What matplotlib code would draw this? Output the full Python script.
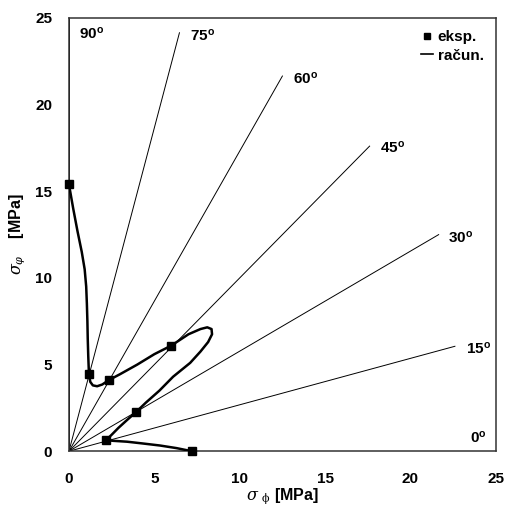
"""
Stress plot: sigma_phi vs sigma_phi with radial angle lines,
experimental points and computed curve.
"""

import numpy as np
import matplotlib
matplotlib.use("Agg")
import matplotlib.pyplot as plt
from matplotlib.lines import Line2D

# Data
ANGLES = [0, 15, 30, 45, 60, 75, 90]  # degrees
RAY_LENGTH = [25.0, 23.4, 25.0, 24.9, 25.0, 25.0, 25.0]
ANGLE_LABEL_X = [23.5, 23.25, 22.2, 18.2, 13.1, 7.1, 0.6]
ANGLE_LABEL_Y = [0.8, 5.95, 12.35, 17.5, 21.5, 24.0, 24.1]

exp_x = [0.0, 1.17, 2.33, 6.0, 3.92, 2.17, 7.2]
exp_y = [15.4, 4.47, 4.1, 6.1, 2.25, 0.64, 0.0]

calc_x = [0.0, 0.25, 0.5, 0.75, 0.92, 1.01, 1.05, 1.08, 1.1, 1.13, 1.17,
          1.25, 1.4, 1.65, 1.95, 2.33, 3.0, 4.0, 5.0, 6.0, 7.0, 7.7, 8.1,
          8.35, 8.38, 8.15, 7.7, 7.1, 6.1, 5.3, 4.5, 3.92, 3.4, 2.9, 2.5,
          2.17, 2.6, 3.4, 4.3, 5.33, 6.3, 7.2]
calc_y = [15.4, 14.0, 12.7, 11.5, 10.5, 9.5, 8.5, 7.5, 6.5, 5.5, 4.47,
          4.0, 3.8, 3.75, 3.85, 4.1, 4.45, 5.0, 5.6, 6.1, 6.75, 7.05, 7.15,
          7.05, 6.75, 6.3, 5.75, 5.1, 4.3, 3.5, 2.8, 2.25, 1.8, 1.35, 0.95,
          0.64, 0.6, 0.55, 0.45, 0.33, 0.18, 0.0]

TICKS = [0, 5, 10, 15, 20, 25]

plt.rcParams['font.family'] = ['Liberation Sans', 'DejaVu Sans']
plt.rcParams['mathtext.fontset'] = 'dejavuserif'

fig = plt.figure(figsize=(5.07, 5.07), dpi=100)
ax = fig.add_axes([0.136, 0.110, 0.842, 0.8545])

# radial lines
for ang, r in zip(ANGLES, RAY_LENGTH):
    a = np.radians(ang)
    ax.plot([0, r * np.cos(a)], [0, r * np.sin(a)], color='black', linewidth=0.7)

for ang, lx, ly in zip(ANGLES, ANGLE_LABEL_X, ANGLE_LABEL_Y):
    ax.text(lx, ly, f'{ang}$^\\mathregular{{o}}$', fontsize=11, fontweight='bold',
            ha='left', va='center')

ax.plot(calc_x, calc_y, color='black', linewidth=1.8, zorder=3,
        solid_joinstyle='round')
ax.plot(exp_x, exp_y, linestyle='none', marker='s', markersize=6,
        color='black', zorder=4, clip_on=False)

ax.set_xlim(0, 25)
ax.set_ylim(0, 25)
ax.set_xticks(TICKS)
ax.set_yticks(TICKS)
ax.tick_params(length=0, labelsize=11)
ax.tick_params(axis='x', pad=15)
ax.tick_params(axis='y', pad=12)
for lbl in ax.get_xticklabels() + ax.get_yticklabels():
    lbl.set_fontweight('bold')
for sp in ax.spines.values():
    sp.set_color('#333333')
    sp.set_linewidth(1.1)

ax.set_xlabel(r'$\sigma$ $_{\mathrm{\phi}}$ [MPa]', fontsize=11.5, fontweight='bold', labelpad=0)
ax.set_ylabel(r'$\sigma_{\varphi}$    [MPa]', fontsize=11.5, fontweight='bold', labelpad=6)

handles = [Line2D([], [], marker='s', linestyle='none', color='black', markersize=5),
           Line2D([], [], color='black', linewidth=1.2)]
leg = ax.legend(handles, ['eksp.', 'račun.'], loc='upper right', frameon=False,
                handlelength=0.8, handletextpad=0.3, labelspacing=0.3,
                borderaxespad=0.4, prop={'weight': 'bold', 'size': 11})

fig.savefig('out.png', dpi=100)
